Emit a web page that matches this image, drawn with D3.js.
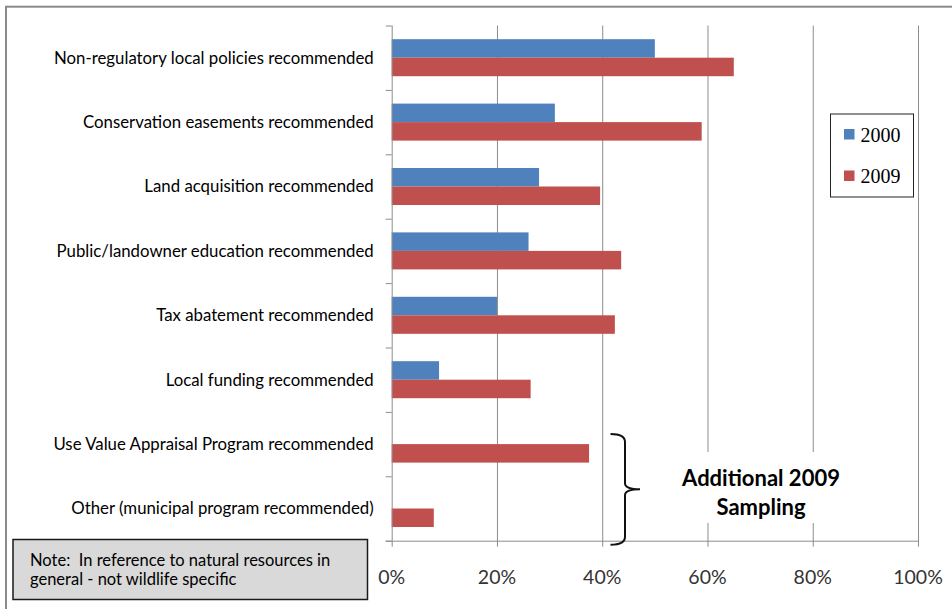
<!DOCTYPE html>
<html>
<head>
<meta charset="utf-8">
<script src="https://cdn.jsdelivr.net/npm/d3@7"></script>
<style>
  body { margin: 0; background: #fff; }
  svg { display: block; font-family: Lato, "Open Sans", sans-serif; }
  text { white-space: pre; }
</style>
</head>
<body>
<div id="chart"></div>
<script>
// categories, top to bottom
const categories = [
    "Non-regulatory local policies recommended",
    "Conservation easements recommended",
    "Land acquisition recommended",
    "Public/landowner education recommended",
    "Tax abatement recommended",
    "Local funding recommended",
    "Use Value Appraisal Program recommended",
    "Other (municipal program recommended)"
];
const seriesNames = ["2000", "2009"];
const values2000 = [50, 31, 28, 26, 20, 9, null, null];
const values2009 = [65, 58.9, 39.6, 43.6, 42.4, 26.4, 37.5, 8];
const xTicks = [0, 20, 40, 60, 80, 100];
const colors = ["#4f81bd", "#c0504d"];

var width = 952, height = 609;
var margin = {top: 25.5, right: 34, bottom: 68.3, left: 391.7};
var plotW = width - margin.left - margin.right,
    plotH = height - margin.top - margin.bottom;

var svg = d3.select("#chart")
    .append("svg")
    .attr("width", width)
    .attr("height", height);

// outer chart frame (runs off the right/bottom edge in the original)
svg.append("rect")
    .attr("x", 6).attr("y", 6.7)
    .attr("width", 980).attr("height", 640)
    .attr("fill", "none")
    .attr("stroke", "#8a8a8a")
    .attr("stroke-width", 2);

var g = svg.append("g")
    .attr("transform", "translate(" + margin.left + "," + margin.top + ")");

var x = d3.scaleLinear().domain([0, 100]).range([0, plotW]);
var y = d3.scaleBand().domain(categories).range([0, plotH]).padding(0);
var ySub = d3.scaleBand().domain(seriesNames).range([0, y.bandwidth()])
    .paddingInner(0).paddingOuter(0.74);

// gridlines + bottom ticks
g.selectAll(".grid")
    .data(xTicks.slice(1))
    .enter().append("line")
    .attr("x1", d => x(d) + 0.5).attr("x2", d => x(d) + 0.5)
    .attr("y1", 0).attr("y2", plotH + 6)
    .attr("stroke", "#8c8c8c")
    .attr("stroke-width", 1);

// x axis labels
g.selectAll(".xlab")
    .data(xTicks)
    .enter().append("text")
    .attr("x", d => x(d))
    .attr("y", plotH + 43)
    .attr("text-anchor", "middle")
    .attr("font-size", "19.5px")
    .attr("fill", "#333")
    .text(d => d + "%");

// rows
var rows = categories.map(function(c, i) {
    return {cat: c, vals: [values2000[i], values2009[i]]};
});

var groups = g.selectAll(".barGroup")
    .data(rows)
    .enter().append("g")
    .attr("class", "barGroup")
    .attr("transform", d => "translate(0," + y(d.cat) + ")");

groups.selectAll("rect")
    .data(d => seriesNames.map((s, k) => ({key: s, value: d.vals[k]})).filter(e => e.value != null))
    .enter().append("rect")
    .attr("x", 0)
    .attr("y", d => ySub(d.key))
    .attr("width", d => x(d.value))
    .attr("height", ySub.bandwidth())
    .attr("fill", d => colors[seriesNames.indexOf(d.key)]);

// y axis line and ticks
g.append("line")
    .attr("x1", 0.5).attr("x2", 0.5)
    .attr("y1", 0).attr("y2", plotH)
    .attr("stroke", "#8c8c8c");
g.append("line")
    .attr("x1", -6).attr("x2", plotW)
    .attr("y1", plotH + 0.5).attr("y2", plotH + 0.5)
    .attr("stroke", "#8c8c8c");
g.append("line")
    .attr("x1", 0.5).attr("x2", 0.5)
    .attr("y1", plotH).attr("y2", plotH + 6)
    .attr("stroke", "#8c8c8c");
g.selectAll(".ytick")
    .data(categories.concat(["end"]))
    .enter().append("line")
    .attr("x1", -6).attr("x2", 0)
    .attr("y1", (d, i) => i * y.step() + 0.5)
    .attr("y2", (d, i) => i * y.step() + 0.5)
    .attr("stroke", "#8c8c8c");

// category labels
g.selectAll(".ylab")
    .data(categories)
    .enter().append("text")
    .attr("x", -18)
    .attr("y", d => y(d) + y.bandwidth() / 2)
    .attr("dy", "0.35em")
    .attr("text-anchor", "end")
    .attr("font-size", "16.8px")
    .attr("fill", "#000")
    .text(d => d);

// legend
var legend = svg.append("g").attr("transform", "translate(830.5,114)");
legend.append("rect")
    .attr("width", 83).attr("height", 83)
    .attr("fill", "#fff")
    .attr("stroke", "#222")
    .attr("stroke-width", 1);
seriesNames.forEach(function(s, i) {
    legend.append("rect")
        .attr("x", 13.5).attr("y", 15 + i * 41.5)
        .attr("width", 10.5).attr("height", 10.5)
        .attr("fill", colors[i]);
    legend.append("text")
        .attr("x", 30).attr("y", 20.5 + i * 41.5)
        .attr("dy", "0.35em")
        .attr("font-family", "'Liberation Serif', serif")
        .attr("font-size", "20px")
        .text(s);
});

// bracket around the additional 2009 sampling rows
var bTop = y(categories[6]) + 22 + margin.top,
    bBot = plotH + margin.top + 4,
    bMid = (bTop + bBot) / 2,
    bx = 610.5, bx2 = 625, bTip = 640;
svg.append("path")
    .attr("d", "M" + bx + "," + bTop +
        " Q" + bx2 + "," + bTop + " " + bx2 + "," + (bTop + 8) +
        " L" + bx2 + "," + (bMid - 6) +
        " Q" + bx2 + "," + bMid + " " + bTip + "," + bMid +
        " Q" + bx2 + "," + bMid + " " + bx2 + "," + (bMid + 6) +
        " L" + bx2 + "," + (bBot - 8) +
        " Q" + bx2 + "," + bBot + " " + bx + "," + bBot)
    .attr("fill", "none")
    .attr("stroke", "#111")
    .attr("stroke-width", 2);

svg.append("rect")
    .attr("x", 672).attr("y", 452)
    .attr("width", 178).attr("height", 71)
    .attr("fill", "#fff");
svg.append("text")
    .attr("x", 761).attr("y", 478)
    .attr("dy", "0.35em")
    .attr("text-anchor", "middle")
    .attr("font-weight", "bold")
    .attr("font-size", "22px")
    .text("Additional 2009");
svg.append("text")
    .attr("x", 761).attr("y", 507)
    .attr("dy", "0.35em")
    .attr("text-anchor", "middle")
    .attr("font-weight", "bold")
    .attr("font-size", "22px")
    .text("Sampling");

// note box
svg.append("rect")
    .attr("x", 13).attr("y", 539.5)
    .attr("width", 354.5).attr("height", 60)
    .attr("fill", "#d9d9d9")
    .attr("stroke", "#1a1a1a")
    .attr("stroke-width", 1.5);
svg.append("text")
    .attr("x", 30).attr("y", 566)
    .attr("font-size", "16.5px")
    .text("Note:  In reference to natural resources in");
svg.append("text")
    .attr("x", 30).attr("y", 585)
    .attr("font-size", "16.5px")
    .text("general - not wildlife specific");
</script>
</body>
</html>
